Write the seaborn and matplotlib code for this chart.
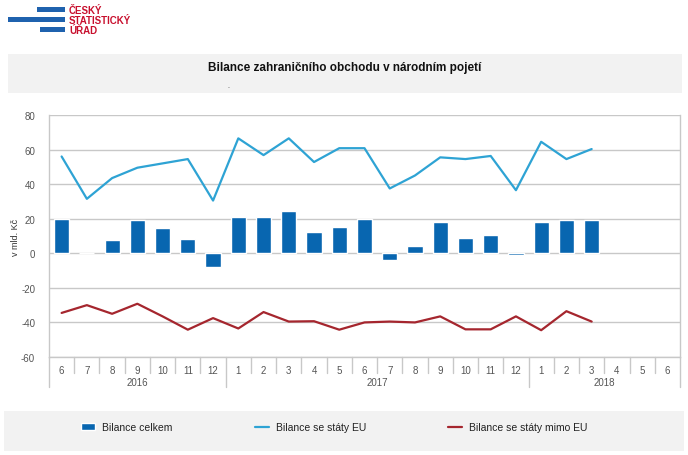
import numpy as np
import pandas as pd
import matplotlib
matplotlib.use("Agg")
import matplotlib.pyplot as plt
import matplotlib.transforms as mtransforms
from matplotlib.patches import Rectangle
import seaborn as sns

# --- DATA (mld. Kč) ---
months = ["6", "7", "8", "9", "10", "11", "12",
          "1", "2", "3", "4", "5", "6", "7", "8", "9", "10", "11", "12",
          "1", "2", "3", "4", "5", "6"]
years = ["2016", "2017", "2018"]
year_sizes = [7, 12, 6]

bilance_celkem = [20.0, 0.0, 7.5, 19.5, 14.5, 8.2, -8.0,
                  21.2, 20.8, 24.7, 12.2, 15.1, 19.8, -3.6, 4.1, 18.2, 8.8, 10.8, -1.1,
                  18.2, 19.5, 19.2, np.nan, np.nan, np.nan]
bilance_eu = [56.0, 31.5, 43.5, 49.5, 52.0, 54.5, 30.5,
              66.5, 56.8, 66.5, 52.8, 60.8, 60.8, 37.5, 45.0, 55.5, 54.5, 56.3, 36.5,
              64.5, 54.5, 60.3, np.nan, np.nan, np.nan]
bilance_mimo_eu = [-34.5, -30.0, -35.0, -29.2, -36.5, -44.2, -37.5,
                   -43.5, -34.0, -39.5, -39.3, -44.2, -40.0, -39.5, -40.0, -36.5, -44.0, -44.0, -36.5,
                   -44.5, -33.5, -39.5, np.nan, np.nan, np.nan]

C_BAR = "#0866b0"
C_EU = "#2ea3d4"
C_MIMO = "#a5262e"
C_GRID = "#c8c8c8"
C_TXT = "#555555"

df = pd.DataFrame({
    "pos": np.arange(len(months)),
    "celkem": bilance_celkem,
    "eu": bilance_eu,
    "mimo": bilance_mimo_eu,
})

sns.set_theme(style="white")
plt.rcParams["font.family"] = ["Liberation Sans", "DejaVu Sans"]
plt.rcParams["axes.unicode_minus"] = False

fig = plt.figure(figsize=(6.88, 4.56), dpi=100)
W, H = 688, 456

# grey panels (title + legend)
fig.patches.append(Rectangle((8 / W, 1 - 94 / H), 674 / W, 39 / H, transform=fig.transFigure,
                             facecolor="#f2f2f2", edgecolor="none", zorder=0))
fig.patches.append(Rectangle((4 / W, 1 - 452 / H), 680 / W, 40 / H, transform=fig.transFigure,
                             facecolor="#f2f2f2", edgecolor="none", zorder=0))

# logo
for x0, y0, w in [(37, 8, 28), (8, 18, 57), (40, 28, 25)]:
    fig.patches.append(Rectangle((x0 / W, 1 - (y0 + 5) / H), w / W, 5 / H, transform=fig.transFigure,
                                 facecolor="#1f62ae", edgecolor="none"))
for i, t in enumerate(["ČESKÝ", "STATISTICKÝ", "ÚŘAD"]):
    fig.text(69 / W, 1 - (11 + 10 * i) / H, t, color="#c8102e", fontsize=7, fontweight="bold",
             va="center", ha="left")

fig.text(345 / W, 1 - 68 / H, "Bilance zahraničního obchodu v národním pojetí",
         fontsize=8.5, fontweight="bold", ha="center", va="center", color="#111111")
fig.text(228 / W, 1 - 86 / H, ".", fontsize=5, ha="center", va="center", color="#333333")

ax = fig.add_axes([49 / W, 1 - 358 / H, 631 / W, 242 / H])

sns.barplot(data=df, x="pos", y="celkem", color=C_BAR, width=0.6, saturation=1,
            ax=ax, zorder=3, label="Bilance celkem")
sns.lineplot(data=df, x="pos", y="eu", color=C_EU, lw=1.6, ax=ax, zorder=4,
             label="Bilance se státy EU")
sns.lineplot(data=df, x="pos", y="mimo", color=C_MIMO, lw=1.6, ax=ax, zorder=4,
             label="Bilance se státy mimo EU")

ax.set_xlim(-0.5, len(months) - 0.5)
ax.set_ylim(-60, 80)
ax.set_yticks(range(-60, 81, 20))
ax.yaxis.grid(True, color=C_GRID, lw=1)
ax.set_axisbelow(True)
ax.spines["top"].set_visible(False)
for s in ["left", "bottom", "right"]:
    ax.spines[s].set_color(C_GRID)
    ax.spines[s].set_linewidth(1)

ax.set_xticks(df["pos"])
ax.set_xticklabels(months)
ax.tick_params(axis="x", length=0, pad=6, labelsize=7, labelcolor=C_TXT)
ax.tick_params(axis="y", length=0, pad=10, labelsize=7, labelcolor=C_TXT)
ax.set_xlabel("")
ax.set_ylabel("")
fig.text(15 / W, 1 - 237 / H, "v mld. Kč", rotation=90, fontsize=6.5, color="#333333",
         ha="center", va="center")

# category separators under the axis
trans = mtransforms.blended_transform_factory(ax.transData, ax.transAxes)
year_edges = np.cumsum([0] + year_sizes) - 0.5
for b in np.arange(-0.5, len(months), 1.0):
    low = -0.125 if np.isclose(year_edges, b).any() else -0.065
    ax.plot([b, b], [0, low], transform=trans, color=C_GRID, lw=1, clip_on=False)
for yr, a, n in zip(years, year_edges[:-1], year_sizes):
    ax.text(a + n / 2, -0.103, yr, transform=trans, ha="center", va="center",
            fontsize=7, color=C_TXT)

handles, labels = ax.get_legend_handles_labels()
order = [labels.index(l) for l in ["Bilance celkem", "Bilance se státy EU", "Bilance se státy mimo EU"]]
if ax.legend_:
    ax.legend_.remove()
fig.legend([handles[i] for i in order], [labels[i] for i in order],
           loc="center left", ncol=3, frameon=False, mode="expand",
           bbox_to_anchor=(72 / W, 1 - 440 / H, 525 / W, 24 / H),
           fontsize=7.5, handlelength=1.3, handleheight=0.6, handletextpad=0.7,
           labelcolor="#222222")

fig.savefig("out.png", dpi=100)
